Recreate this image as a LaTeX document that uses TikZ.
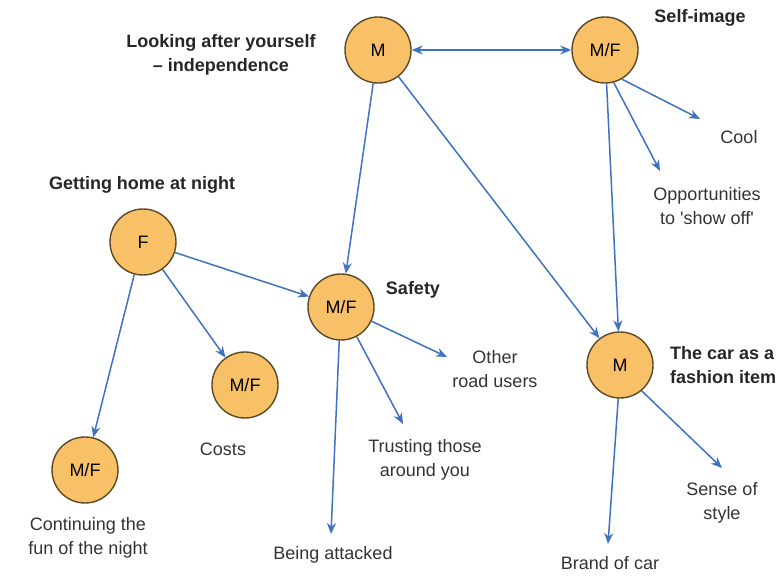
\documentclass[tikz,border=0pt]{standalone}
\usepackage{fontspec}
\setmainfont{Liberation Sans}
\usetikzlibrary{arrows.meta}
\definecolor{blob}{HTML}{F8C168}
\definecolor{rim}{HTML}{5C4A26}
\definecolor{link}{HTML}{3F72C0}
\tikzset{
  group/.style={circle, draw=rim, fill=blob, line width=0.7pt, minimum size=33pt, inner sep=0pt, font=\fontsize{9}{11}\selectfont},
  theme/.style={font=\fontsize{9}{12}\selectfont\bfseries, align=center, text=black!85},
  issue/.style={font=\fontsize{9}{12}\selectfont, align=center, text=black!80},
  link/.style={draw=link, line width=0.75pt, -{Stealth[length=5.5pt,width=4.5pt]}}
}
\begin{document}
\begin{tikzpicture}[x=0.5pt,y=-0.5pt]
\useasboundingbox (0,0) rectangle (783,576);

% circles
\node[group] (indep) at (378,50) {M};
\node[group] (image) at (605,50) {M/F};
\node[group] (home) at (143,242) {F};
\node[group] (safety) at (341,307) {M/F};
\node[group] (costs) at (245,385) {M/F};
\node[group] (fun) at (85,470) {M/F};
\node[group] (fashion) at (620,365) {M};

% headings
\node[theme] (tindep) at (221,55) {Looking after yourself\\– independence};
\node[theme] (timage) at (700,18) {Self-image};
\node[theme] (thome) at (142,185) {Getting home at night};
\node[theme] (tsafety) at (413,290) {Safety};
\node[theme, anchor=west, align=left] (tfashion) at (663,365) {The car as a\\fashion item};

% labels
\node[issue] (cool) at (739,137) {Cool};
\node[issue] (show) at (707,206) {Opportunities\\to \textquotesingle show off\textquotesingle};
\node[issue] (road) at (495,369) {Other\\road users};
\node[issue] (trust) at (425,460) {Trusting those\\around you};
\node[issue] (lcosts) at (223,449) {Costs};
\node[issue] (lfun) at (88,538) {Continuing the\\fun of the night};
\node[issue] (attack) at (333,555) {Being attacked};
\node[issue] (style) at (722,503) {Sense of\\style};
\node[issue] (brand) at (610,563) {Brand of car};

% arrow ends
\coordinate (ecool) at (700,119);
\coordinate (eshow) at (660,171);
\coordinate (eroad) at (447,357);
\coordinate (etrust) at (403,424);
\coordinate (eattack) at (331,534);
\coordinate (estyle) at (722,468);
\coordinate (ebrand) at (608,544);

% links
\draw[link, {Stealth[length=5.5pt,width=4.5pt]}-{Stealth[length=5.5pt,width=4.5pt]}] (indep) -- (image);
\draw[link] (indep) -- (safety);
\draw[link] (indep) -- (fashion);
\draw[link] (image) -- (fashion);
\draw[link] (image.-60) -- (ecool);
\draw[link] (image.-75) -- (eshow);
\draw[link] (home) -- (safety);
\draw[link] (home) -- (costs);
\draw[link] (home.-105) -- (fun);
\draw[link] (safety.-25) -- (eroad);
\draw[link] (safety.-62) -- (etrust);
\draw[link] (safety.-93) -- (eattack);
\draw[link] (fashion.-50) -- (estyle);
\draw[link] (fashion.-93) -- (ebrand);
\end{tikzpicture}
\end{document}
